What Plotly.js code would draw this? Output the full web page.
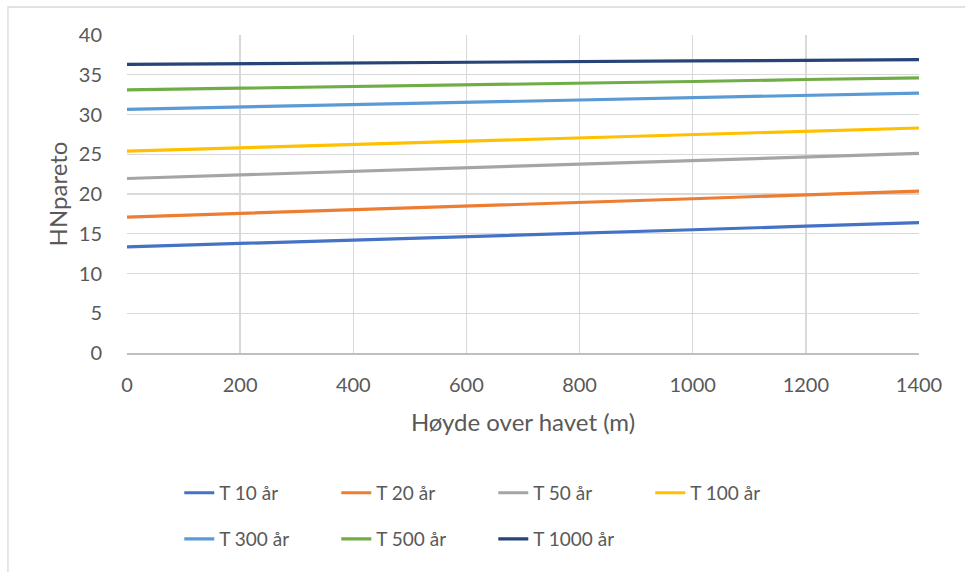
<!DOCTYPE html>
<html>
<head>
<meta charset="utf-8">
<script src="https://cdn.plot.ly/plotly-3.0.1.min.js"></script>
<style>html,body{margin:0;padding:0;background:#fff;}#chart{width:965px;height:572px;}</style>
</head>
<body>
<div id="chart"></div>
<script>
const hoyde = [0, 200, 400, 600, 800, 1000, 1200, 1400];
const seriesNames = ["T 10 år", "T 20 år", "T 50 år", "T 100 år", "T 300 år", "T 500 år", "T 1000 år"];
const t10   = [13.35, 13.8, 14.25, 14.65, 15.1, 15.5, 15.95, 16.4];
const t20   = [17.1, 17.55, 18.0, 18.5, 18.95, 19.4, 19.9, 20.35];
const t50   = [21.95, 22.4, 22.85, 23.3, 23.75, 24.2, 24.65, 25.1];
const t100  = [25.4, 25.8, 26.2, 26.6, 27.05, 27.45, 27.85, 28.3];
const t300  = [30.65, 30.95, 31.2, 31.5, 31.8, 32.1, 32.4, 32.7];
const t500  = [33.1, 33.3, 33.5, 33.75, 33.95, 34.15, 34.4, 34.6];
const t1000 = [36.3, 36.4, 36.45, 36.55, 36.65, 36.75, 36.8, 36.9];
const colors = ["#4472C4", "#ED7D31", "#A5A5A5", "#FFC000", "#5B9BD5", "#70AD47", "#264478"];
const allSeries = [t10, t20, t50, t100, t300, t500, t1000];

const traces = allSeries.map((ys, i) => ({
  x: hoyde, y: ys, name: seriesNames[i], type: "scatter", mode: "lines",
  line: {color: colors[i], width: 3.2},
  legend: i < 4 ? "legend" : "legend2"
}));

const font = {family: "Lato, 'Open Sans', sans-serif", color: "#595959"};
const legendCommon = {
  orientation: "h", xanchor: "left", yanchor: "middle",
  font: {size: 19, color: "#595959"}, entrywidth: 112, entrywidthmode: "pixels",
  bgcolor: "rgba(0,0,0,0)"
};
const layout = {
  width: 965, height: 572,
  margin: {l: 127, r: 46, t: 35, b: 219},
  paper_bgcolor: "#fff", plot_bgcolor: "#fff",
  font: font,
  showlegend: true,
  xaxis: {
    range: [0, 1400], dtick: 200, tick0: 0, automargin: false,
    showgrid: true, gridcolor: "#d9d9d9", gridwidth: 1.4,
    zeroline: false, showline: true, linecolor: "#bfbfbf", linewidth: 1.5,
    ticks: "outside", ticklen: 13, tickcolor: "rgba(0,0,0,0)",
    tickfont: {size: 20, color: "#595959"},
    title: {text: "Høyde over havet (m)", font: {size: 24, color: "#595959"}, standoff: 19}
  },
  yaxis: {
    range: [0, 40], dtick: 5, tick0: 0, automargin: false,
    showgrid: true, gridcolor: "#d9d9d9", gridwidth: 1.4,
    zeroline: false, showline: false,
    ticks: "outside", ticklen: 20, tickcolor: "rgba(0,0,0,0)",
    tickfont: {size: 20, color: "#595959"},
    title: {text: "HNpareto", font: {size: 24, color: "#595959"}, standoff: 4}
  },
  legend: Object.assign({x: 0.066, y: -0.44}, legendCommon),
  legend2: Object.assign({x: 0.066, y: -0.585}, legendCommon),
  shapes: [{
    type: "rect", xref: "paper", yref: "paper",
    x0: -0.1503, x1: 1.2, y0: -1.2, y1: 1.088,
    line: {color: "#d9d9d9", width: 1.3}, fillcolor: "rgba(0,0,0,0)", layer: "below"
  }]
};
Plotly.newPlot("chart", traces, layout, {staticPlot: true, displayModeBar: false});
</script>
</body>
</html>
